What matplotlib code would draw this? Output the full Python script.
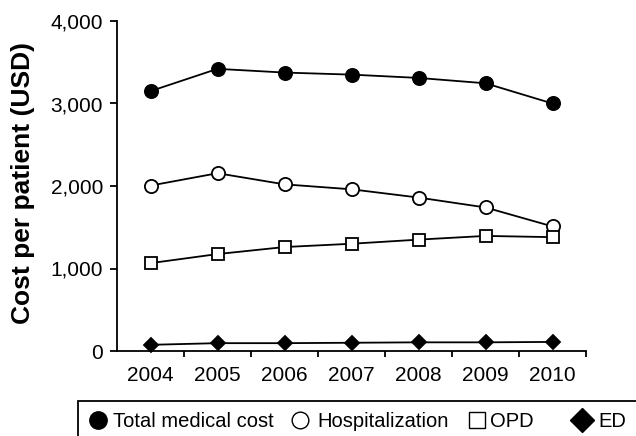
import matplotlib.pyplot as plt
from matplotlib.lines import Line2D
from matplotlib.patches import Rectangle
from matplotlib.ticker import FuncFormatter, FixedLocator

plt.rcParams['font.family'] = ['Liberation Sans', 'DejaVu Sans']

years = [2004, 2005, 2006, 2007, 2008, 2009, 2010]
total = [3150, 3420, 3375, 3350, 3310, 3245, 3000]
hosp = [2005, 2155, 2020, 1960, 1860, 1740, 1510]
opd = [1065, 1175, 1260, 1300, 1350, 1395, 1380]
ed = [75, 95, 95, 100, 105, 105, 110]
labels = ['Total medical cost', 'Hospitalization', 'OPD', 'ED']

W, H = 636, 436
fig = plt.figure(figsize=(W / 100, H / 100), dpi=100)
ax = fig.add_axes([117/W, 1-351/H, 469/W, 330/H])

lw = 1.3
styles = [
    dict(marker='o', ms=9.5, mfc='black'),
    dict(marker='o', ms=9.5, mfc='white'),
    dict(marker='s', ms=9, mfc='white'),
    dict(marker='D', ms=7, mfc='black'),
]
for vals, st, lab in zip([total, hosp, opd, ed], styles, labels):
    ax.plot(years, vals, color='black', lw=lw, mec='black', mew=1.3, label=lab,
            clip_on=False, **st)

ax.set_xlim(2003.5, 2010.5)
ax.set_ylim(0, 4000)
ax.set_xticks(years)
ax.xaxis.set_minor_locator(FixedLocator([y + 0.5 for y in years]))
ax.tick_params(axis='x', which='major', length=0, pad=11, labelsize=15)
ax.tick_params(axis='x', which='minor', length=4.5, width=1.3, direction='out')
ax.set_yticks([0, 1000, 2000, 3000, 4000])
ax.yaxis.set_major_formatter(FuncFormatter(lambda v, p: f'{int(v):,}'))
ax.tick_params(axis='y', length=5, width=1.3, labelsize=15, pad=5)

for s in ['top', 'right']:
    ax.spines[s].set_visible(False)
for s in ['left', 'bottom']:
    ax.spines[s].set_linewidth(1.3)

ax.set_ylabel('Cost per patient (USD)', fontsize=19, fontweight='bold')
ax.yaxis.set_label_coords(-0.175, 0.508)

# legend box (runs off the right and bottom edges, as in the source figure)
fig.add_artist(Rectangle((78/W, 1-450/H), 600/W, 49/H, transform=fig.transFigure,
                         fill=False, edgecolor='black', lw=1.3, clip_on=False))
leg_x = [98, 300, 477, 582]
text_x = [113, 317, 490, 598]
leg_ms = [12.5, 12, 11.5, 12]
for st, lab, mx, tx, ms in zip(styles, labels, leg_x, text_x, leg_ms):
    fig.add_artist(Line2D([mx/W], [1-420/H], transform=fig.transFigure, linestyle='none',
                          marker=st['marker'], mfc=st['mfc'], mec='black', mew=1.0, ms=ms))
    fig.text(tx/W, 1-421/H, lab, fontsize=14.5, va='center', ha='left')

fig.savefig('out.png', dpi=100)
